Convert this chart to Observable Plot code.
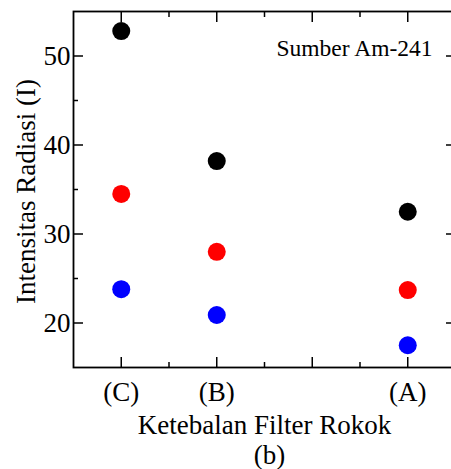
<!DOCTYPE html>
<html>
<head>
<meta charset="utf-8">
<script src="https://cdn.jsdelivr.net/npm/d3@7"></script>
<script src="https://cdn.jsdelivr.net/npm/@observablehq/plot@0.6"></script>
<style>
  html, body { margin: 0; padding: 0; background: #fff; overflow: hidden; }
  #chart { width: 451px; height: 469px; overflow: hidden; }
  #chart svg { max-width: none !important; }
</style>
</head>
<body>
<div id="chart"></div>
<script>
// Categories and their positions on the thickness axis
const categories = ["(C)", "(B)", "(A)"];
const xValues = [1, 3, 7];
// Series values (three measurements per category)
const seriesBlack = [52.8, 38.2, 32.5];
const seriesRed = [34.5, 28.0, 23.7];
const seriesBlue = [23.8, 20.9, 17.5];
const seriesNames = ["black", "red", "blue"];
const seriesColors = ["#000000", "#c00000", "#0000ff"];
// Tick values
const yMajor = [20, 30, 40, 50];
const yMinor = [25, 35, 45];
const xMajor = [1, 3, 5, 7];
const xMinor = [2, 4, 6];
const yLabel = "Intensitas Radiasi (I)";
const xLabel = "Ketebalan Filter Rokok";
const panelLabel = "(b)";
const annotation = "Sumber Am-241";

const allSeries = [seriesBlack, seriesRed, seriesBlue];
const points = [];
allSeries.forEach((vals, s) => {
  vals.forEach((v, i) => points.push({x: xValues[i], y: v, series: seriesNames[s]}));
});
const labelOf = new Map(xValues.map((x, i) => [x, categories[i]]));

const font = "'Liberation Serif', 'Times New Roman', serif";
const fs = 27;

const tickMarks = [];
for (const anchor of ["left", "right"]) {
  tickMarks.push(Plot.axisY({anchor, ticks: yMajor, tickSize: -10, tickFormat: () => "", label: null, strokeWidth: 1.5}));
  tickMarks.push(Plot.axisY({anchor, ticks: yMinor, tickSize: -5, tickFormat: () => "", label: null, strokeWidth: 1.5}));
}
for (const anchor of ["bottom", "top"]) {
  tickMarks.push(Plot.axisX({anchor, ticks: xMajor, tickSize: -10, tickFormat: () => "", label: null, strokeWidth: 1.5}));
  tickMarks.push(Plot.axisX({anchor, ticks: xMinor, tickSize: -5, tickFormat: () => "", label: null, strokeWidth: 1.5}));
}

const chart = Plot.plot({
  width: 460,
  height: 469,
  marginLeft: 73,
  marginTop: 11,
  marginRight: 5,
  marginBottom: 102,
  style: {fontFamily: font, fontSize: fs + "px", color: "#000", background: "#fff", maxWidth: "none"},
  x: {domain: [0, 8]},
  y: {domain: [15, 55]},
  color: {domain: seriesNames, range: seriesColors},
  marks: [
    ...tickMarks,
    Plot.axisY({anchor: "left", ticks: yMajor, tickSize: 0, tickPadding: 3, label: null, fontSize: fs, fontFamily: font}),
    Plot.axisX({anchor: "bottom", ticks: xValues, tickSize: 0, tickPadding: 14, tickFormat: d => labelOf.get(d), label: null, fontSize: fs, fontFamily: font}),
    Plot.frame({strokeWidth: 1.8}),
    Plot.dot(points, {x: "x", y: "y", fill: "series", r: 9}),
    Plot.text([annotation], {frameAnchor: "top-right", dx: -23, dy: 37, textAnchor: "end", lineAnchor: "middle", fontSize: 23.5, fontFamily: font, fill: "#000"}),
    Plot.text([yLabel], {frameAnchor: "left", rotate: -90, dx: -47, dy: 2, textAnchor: "middle", lineAnchor: "middle", fontSize: fs, fontFamily: font, fill: "#000"}),
    Plot.text([xLabel], {frameAnchor: "bottom", dy: 58, textAnchor: "middle", lineAnchor: "middle", fontSize: fs, fontFamily: font, fill: "#000"}),
    Plot.text([panelLabel], {frameAnchor: "bottom", dx: 5, dy: 88, textAnchor: "middle", lineAnchor: "middle", fontSize: fs, fontFamily: font, fill: "#000"})
  ]
});
document.getElementById("chart").appendChild(chart);
</script>
</body>
</html>
